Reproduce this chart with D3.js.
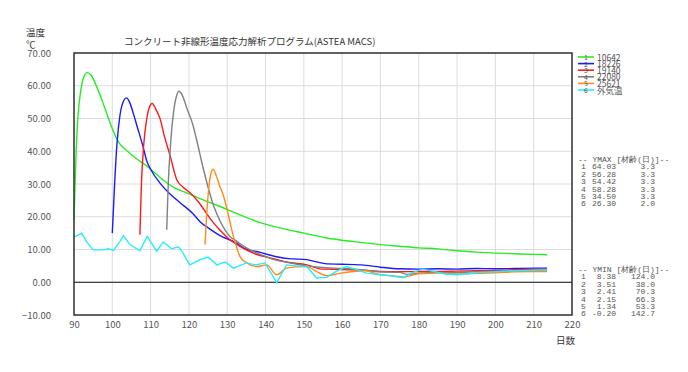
<!DOCTYPE html>
<html>
<head>
<meta charset="utf-8">
<script src="https://cdn.jsdelivr.net/npm/d3@7"></script>
<style>
  body { margin: 0; background: #fff; }
  svg { display: block; }
  text { font-family: "Noto Sans CJK JP", "DejaVu Sans", sans-serif; fill: #444; }
  text.mono { font-family: "Liberation Mono", "DejaVu Sans Mono", monospace; }
</style>
</head>
<body>
<svg width="688" height="372"></svg>
<script>
// data: [day, temperature]
const s1 = [[90,19],[90.5,38],[91,50],[91.7,58],[92.5,62.5],[93.5,64],[94.5,63.2],[96,59.5],[97.5,55],[99,50],[100.3,46],[101.5,43],[102.5,41.5],[104,40],[106,38],[109,35.5],[113,31.5],[116,29],[119.4,27.3],[124,25],[128,23.2],[133,20.7],[138.6,18.2],[143.8,16.6],[150,15],[156,13.5],[163,12.4],[170,11.5],[175,11],[180,10.5],[185,10.2],[190,9.6],[195,9.2],[200,8.9],[205,8.7],[210,8.5],[213.5,8.4]];
const s2 = [[100,15],[100.6,30],[101.2,42],[102,51],[103,55.5],[103.7,56.3],[104.5,55],[105.5,51.5],[106.5,47.5],[108,41.5],[109,37],[110,34.5],[112.5,30.2],[115,27],[117.7,24.3],[121,21],[122.9,18.5],[125.5,16.2],[128,14.3],[132.5,11.9],[134.2,10.5],[138.6,9.1],[142.9,7.8],[146,7.2],[150.8,6.9],[153,6.3],[156,5.6],[160,5.5],[165,5.3],[170,4.6],[175,4.1],[180,4],[185,4.1],[190,4],[195,4.2],[200,4.1],[205,4.2],[210,4.3],[213.5,4.3]];
const s3 = [[107.2,14.5],[107.6,30],[108.2,42],[109,50],[109.7,53.5],[110.4,54.6],[111.3,53],[112.5,49.8],[113.5,45],[115.1,38.6],[116.8,31.4],[118.5,29],[120.3,27.3],[122.5,24.5],[125.5,19.5],[128,16],[130.7,13],[134,10.5],[137,8.8],[141.2,7.4],[145,6.3],[150.8,5.3],[155,4],[160,3.9],[165,3.7],[170,3.3],[175,3.2],[180,3.3],[185,3.3],[190,3.4],[195,3.5],[200,3.6],[205,3.8],[210,3.9],[213.5,3.9]];
const s4 = [[114.2,16],[114.6,30],[115.2,42],[116,52],[116.8,57],[117.4,58.3],[118.3,57],[119.5,53],[121.1,47.8],[122,43.5],[123.8,34.5],[125,29],[126.4,23.5],[128,19],[130.7,14],[132.5,12.5],[135,10.5],[138.6,8.5],[142,7],[146,6],[150.8,5],[155,4.5],[160,4.2],[165,3.8],[170,3.2],[175,3],[177,2.4],[180,2.8],[185,3],[190,3],[195,3.2],[200,3.3],[205,3.5],[210,3.6],[213.5,3.7]];
const s5 = [[124.2,11.5],[124.6,20],[125.2,29],[125.8,33.5],[126.3,34.5],[127,33],[128,29.5],[129,26.5],[130.2,21],[131.6,14],[132.5,10.5],[133.3,7.9],[135,6],[137.7,4.8],[140.3,5.3],[142.9,2.3],[145.5,4.3],[148,4.7],[150.8,4.8],[153,3.5],[156,2],[159.5,2.8],[163,3.3],[166,3.5],[170,2.3],[173,2],[176,1.6],[180,2.6],[185,2.8],[190,2.5],[195,2.7],[200,2.9],[205,3.2],[210,3.3],[213.5,3.3]];
const s6 = [[90,13.8],[92,15],[93.5,12],[95,9.9],[97.6,9.9],[99,10.2],[100.3,9.7],[102,12.5],[102.9,14.2],[104.6,11.5],[107.2,9.6],[109.1,14],[111.6,9.5],[113.3,12.3],[115.5,10.2],[117.2,10.8],[118.2,9.5],[119.4,6.9],[120.3,5.3],[122.9,6.9],[125,7.7],[127.3,5.3],[129.5,6.2],[131.6,4.3],[135,5.9],[137.5,5.3],[139.9,5.9],[142.9,-0.1],[145.5,5.3],[148,5],[150.8,4.8],[153.3,1.3],[156,1.5],[158,3],[161,4.8],[163.5,4],[166.3,2.8],[170,2.3],[173,1.9],[176,1.4],[178,2.8],[181,4],[184,3.3],[187,2.5],[190,2.3],[193,2.6],[196,3],[200,3.2],[204,3.5],[208,3.6],[213.5,3.8]];

const seriesNames = ['10642', '18226', '19140', '22080', '25621', '外気温'];
const seriesColors = ['#22ee22', '#1a1aff', '#ff1a1a', '#808080', '#ff8c1a', '#22eeff'];
const seriesData = [s1, s2, s3, s4, s5, s6];

const ymaxRows = [['1','64.03','3.3'],['2','56.28','3.3'],['3','54.42','3.3'],['4','58.28','3.3'],['5','34.50','3.3'],['6','26.30','2.0']];
const yminRows = [['1','8.38','124.0'],['2','3.51','38.0'],['3','2.41','70.3'],['4','2.15','66.3'],['5','1.34','53.3'],['6','-0.20','142.7']];

const xTicks = d3.range(90, 221, 10);
const yTicks = d3.range(-10, 71, 10);

const svg = d3.select('svg');
const width = +svg.attr('width');
const height = +svg.attr('height');
const margin = { top: 53, right: 116, bottom: 57, left: 74 };
const innerWidth = width - margin.left - margin.right;
const innerHeight = height - margin.top - margin.bottom;

const xScale = d3.scaleLinear().domain([90, 220]).range([0, innerWidth]);
const yScale = d3.scaleLinear().domain([-10, 70]).range([innerHeight, 0]);

const g = svg.append('g').attr('transform', `translate(${margin.left},${margin.top})`);

// grid
g.append('g').selectAll('line').data(xTicks).enter().append('line')
  .attr('x1', d => xScale(d)).attr('x2', d => xScale(d))
  .attr('y1', 0).attr('y2', innerHeight)
  .attr('stroke', '#dcdcdc').attr('stroke-width', 1);
g.append('g').selectAll('line').data(yTicks).enter().append('line')
  .attr('x1', 0).attr('x2', innerWidth)
  .attr('y1', d => yScale(d)).attr('y2', d => yScale(d))
  .attr('stroke', '#dcdcdc').attr('stroke-width', 1);

// zero line
g.append('line')
  .attr('x1', 0).attr('x2', innerWidth)
  .attr('y1', yScale(0)).attr('y2', yScale(0))
  .attr('stroke', '#111').attr('stroke-width', 1.2);

// axes
const xAxisG = g.append('g')
  .attr('transform', `translate(0,${innerHeight})`)
  .call(d3.axisBottom(xScale).tickValues(xTicks).tickSize(0).tickPadding(6).tickFormat(d3.format('d')));
xAxisG.select('.domain').remove();
xAxisG.selectAll('text').style('font-size', '9.5px').style('fill', '#555');

const yAxisG = g.append('g')
  .call(d3.axisLeft(yScale).tickValues(yTicks).tickSize(0).tickPadding(23).tickFormat(d3.format('.2f')));
yAxisG.select('.domain').remove();
yAxisG.selectAll('text').style('font-size', '9.5px').style('fill', '#555');

// lines
const line = d3.line().x(d => xScale(d[0])).y(d => yScale(d[1]));
seriesData.forEach((data, i) => {
  g.append('path')
    .datum(data)
    .attr('fill', 'none')
    .attr('stroke', seriesColors[i])
    .attr('stroke-width', 1.4)
    .attr('d', line.curve(i === 5 ? d3.curveLinear : d3.curveMonotoneX));
});

// frame
g.append('rect')
  .attr('width', innerWidth).attr('height', innerHeight)
  .attr('fill', 'none').attr('stroke', '#333').attr('stroke-width', 1.5);

// titles
svg.append('text').attr('x', 124).attr('y', 45)
  .style('font-size', '9.5px').style('fill', '#333')
  .text('コンクリート非線形温度応力解析プログラム(ASTEA MACS)');
svg.append('text').attr('x', 26).attr('y', 36).style('font-size', '9.5px').style('fill', '#333').text('温度');
svg.append('text').attr('x', 26).attr('y', 48).style('font-size', '9.5px').style('fill', '#333').text('℃');
svg.append('text').attr('x', 556).attr('y', 344).style('font-size', '9.5px').style('fill', '#333').text('日数');

// legend
const legend = svg.append('g').attr('transform', 'translate(578,57)');
seriesNames.forEach((name, i) => {
  const y = i * 6.6;
  legend.append('line').attr('x1', 0).attr('x2', 16).attr('y1', y).attr('y2', y)
    .attr('stroke', seriesColors[i]).attr('stroke-width', 1.6);
  legend.append('text').attr('x', 6).attr('y', y + 3).style('font-size', '7px').style('fill', '#555').text(i + 1);
  legend.append('text').attr('x', 19).attr('y', y + 3.5).style('font-size', '8.5px').style('fill', '#555').text(name);
});

// max / min tables
const table = (y0, title, rows) => {
  const t = svg.append('g').attr('transform', `translate(578,${y0})`);
  t.append('text').attr('class', 'mono').attr('x', 0).attr('y', 0)
    .style('font-size', '8px').style('fill', '#555')
    .text('-- ' + title + ' [材齢(日)]--');
  rows.forEach((r, i) => {
    const y = 7.4 * (i + 1);
    t.append('text').attr('class', 'mono').attr('x', 3).attr('y', y).style('font-size', '8px').style('fill', '#555').text(r[0]);
    t.append('text').attr('class', 'mono').attr('x', 38).attr('y', y).attr('text-anchor', 'end').style('font-size', '8px').style('fill', '#555').text(r[1]);
    t.append('text').attr('class', 'mono').attr('x', 77).attr('y', y).attr('text-anchor', 'end').style('font-size', '8px').style('fill', '#555').text(r[2]);
  });
};
table(162, 'YMAX', ymaxRows);
table(272, 'YMIN', yminRows);
</script>
</body>
</html>
